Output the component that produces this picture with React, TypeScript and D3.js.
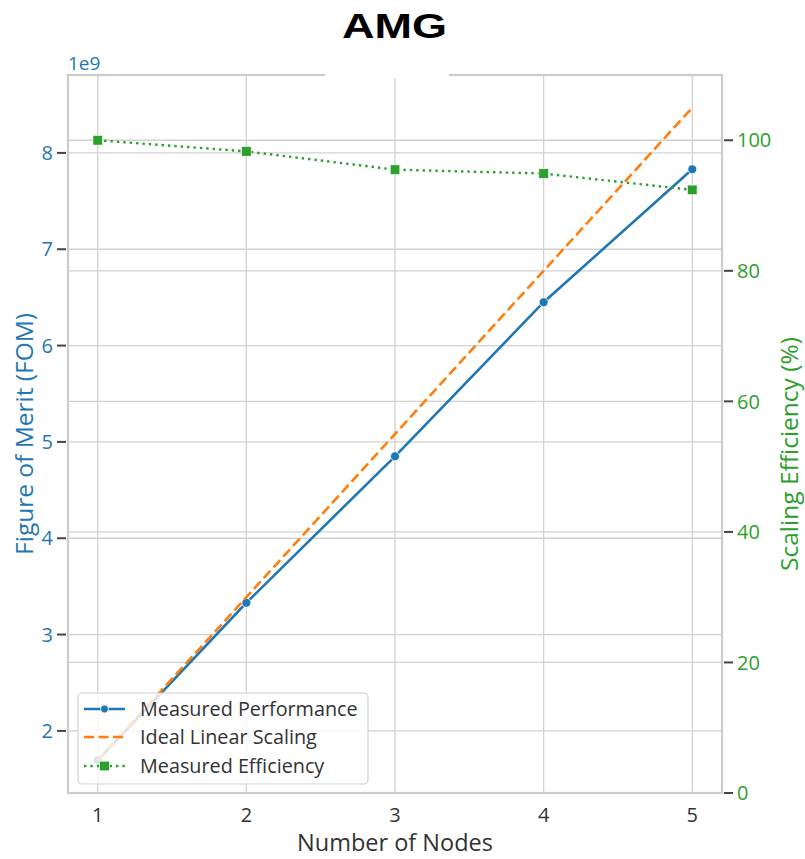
import React from 'react';
import * as d3 from 'd3';

// values
const nodes = [1, 2, 3, 4, 5];
const measuredFom = [1.694e9, 3.33e9, 4.85e9, 6.45e9, 7.83e9];
const idealFom = [1.694e9, 3.388e9, 5.082e9, 6.776e9, 8.47e9];
const efficiency = [100, 98.3, 95.5, 94.9, 92.4];
const leftTicks = [2, 3, 4, 5, 6, 7, 8];
const rightTicks = [0, 20, 40, 60, 80, 100];
const legendLabels = ['Measured Performance', 'Ideal Linear Scaling', 'Measured Efficiency'];

const W = 805, H = 859;
const m = { left: 68, right: 722, top: 75, bottom: 793 };
const FONT = '"Open Sans", "DejaVu Sans", sans-serif';
const BLUE = '#1f77b4', ORANGE = '#ff7f0e', GREEN = '#2ca02c';
const GRID = '#d2d2d2';

const App = () => {
  const x = d3.scaleLinear().domain([0.8, 5.2]).range([m.left, m.right]);
  const lo = d3.min(measuredFom.concat(idealFom)) as number;
  const hi = d3.max(measuredFom.concat(idealFom)) as number;
  const pad = (hi - lo) * 0.05;
  const yL = d3.scaleLinear().domain([lo - pad, hi + pad]).range([m.bottom, m.top]);
  const yR = d3.scaleLinear().domain([0, 110]).range([m.bottom, m.top]);

  const lineL = (vals: number[]) =>
    d3.line<number>().x((d, i) => x(nodes[i])).y(d => yL(d))(vals) as string;
  const lineR = d3.line<number>().x((d, i) => x(nodes[i])).y(d => yR(d))(efficiency) as string;

  const cx = (m.left + m.right) / 2;
  const cy = (m.top + m.bottom) / 2;

  const lg = { x: 78, y: 693, w: 290, h: 91 };
  const rowY = [709, 737, 766];

  return (
    <svg width={W} height={H} style={{ position: 'absolute', left: 0, top: 0, background: '#fff' }}>
      {/* grid */}
      {nodes.map(n => (
        <line key={'vx' + n} x1={x(n)} x2={x(n)} y1={m.top} y2={m.bottom} stroke={GRID} strokeWidth={1.3} />
      ))}
      {leftTicks.map(t => (
        <line key={'gl' + t} x1={m.left} x2={m.right} y1={yL(t * 1e9)} y2={yL(t * 1e9)} stroke={GRID} strokeWidth={1.3} />
      ))}
      {rightTicks.map(t => (
        <line key={'gr' + t} x1={m.left} x2={m.right} y1={yR(t)} y2={yR(t)} stroke={GRID} strokeWidth={1.3} />
      ))}

      {/* spines */}
      <rect x={m.left} y={m.top} width={m.right - m.left} height={m.bottom - m.top}
        fill="none" stroke="#cccccc" strokeWidth={2.2} />

      {/* series */}
      <path d={lineL(measuredFom)} fill="none" stroke={BLUE} strokeWidth={2.6} />
      {measuredFom.map((v, i) => (
        <circle key={'mp' + i} cx={x(nodes[i])} cy={yL(v)} r={4.5} fill={BLUE} stroke="#fff" strokeWidth={0.8} />
      ))}
      <path d={lineL(idealFom)} fill="none" stroke={ORANGE} strokeWidth={2.6} strokeDasharray="10,4.5" />
      <path d={lineR} fill="none" stroke={GREEN} strokeWidth={2.4} strokeDasharray="2.4,4" />
      {efficiency.map((v, i) => (
        <rect key={'ef' + i} x={x(nodes[i]) - 4.8} y={yR(v) - 4.8} width={9.6} height={9.6} fill={GREEN} stroke="#fff" strokeWidth={0.6} />
      ))}

      {/* left axis */}
      {leftTicks.map(t => (
        <g key={'lt' + t}>
          <line x1={57} x2={66} y1={yL(t * 1e9)} y2={yL(t * 1e9)} stroke="#444" strokeWidth={2} />
          <text x={53} y={yL(t * 1e9)} dy="0.36em" textAnchor="end" fontFamily={FONT} fontSize={20} fill={BLUE}>{t}</text>
        </g>
      ))}
      <text x={m.left} y={m.top - 5} fontFamily={FONT} fontSize={19} fill={BLUE}>1e9</text>
      <text transform={`translate(24,${cy}) rotate(-90)`} textAnchor="middle" dy="0.35em"
        fontFamily={FONT} fontSize={24.5} fill={BLUE}>Figure of Merit (FOM)</text>

      {/* right axis */}
      {rightTicks.map(t => (
        <g key={'rt' + t}>
          <line x1={724} x2={733} y1={yR(t)} y2={yR(t)} stroke="#444" strokeWidth={2} />
          <text x={737} y={yR(t)} dy="0.36em" fontFamily={FONT} fontSize={20} fill={GREEN}>{t}</text>
        </g>
      ))}
      <text transform={`translate(789,${cy + 20}) rotate(-90)`} textAnchor="middle" dy="0.35em"
        fontFamily={FONT} fontSize={24.5} fill={GREEN}>Scaling Efficiency (%)</text>

      {/* x axis */}
      {nodes.map(n => (
        <text key={'xt' + n} x={x(n)} y={815} dy="0.36em" textAnchor="middle" fontFamily={FONT} fontSize={20} fill="#333">{n}</text>
      ))}
      <text x={cx} y={843} dy="0.36em" textAnchor="middle" fontFamily={FONT} fontSize={23.5} fill="#333">Number of Nodes</text>

      {/* legend */}
      <rect x={lg.x} y={lg.y} width={lg.w} height={lg.h} rx={4} fill="#fff" fillOpacity={0.8} stroke="#d0d0d0" strokeWidth={1.2} />
      <line x1={84} x2={125} y1={rowY[0]} y2={rowY[0]} stroke={BLUE} strokeWidth={2.6} />
      <circle cx={104.5} cy={rowY[0]} r={4} fill={BLUE} stroke="#fff" strokeWidth={0.8} />
      <line x1={84} x2={125} y1={rowY[1]} y2={rowY[1]} stroke={ORANGE} strokeWidth={2.6} strokeDasharray="10,4.5" />
      <line x1={84} x2={125} y1={rowY[2]} y2={rowY[2]} stroke={GREEN} strokeWidth={2.4} strokeDasharray="2.4,4" />
      <rect x={104.5 - 4.8} y={rowY[2] - 4.8} width={9.6} height={9.6} fill={GREEN} stroke="#fff" strokeWidth={0.6} />
      {legendLabels.map((l, i) => (
        <text key={l} x={140} y={rowY[i]} dy="0.36em" fontFamily={FONT} fontSize={19.8} fill="#333">{l}</text>
      ))}

      {/* title */}
      <rect x={325} y={55} width={124} height={23} fill="#fff" />
      <text x={394.5} y={38} textAnchor="middle" fontFamily='"Liberation Sans", Arial, sans-serif' fontWeight="bold"
        fontSize={35} textLength={105} lengthAdjust="spacingAndGlyphs" fill="#000">AMG</text>
    </svg>
  );
};

export default App;
